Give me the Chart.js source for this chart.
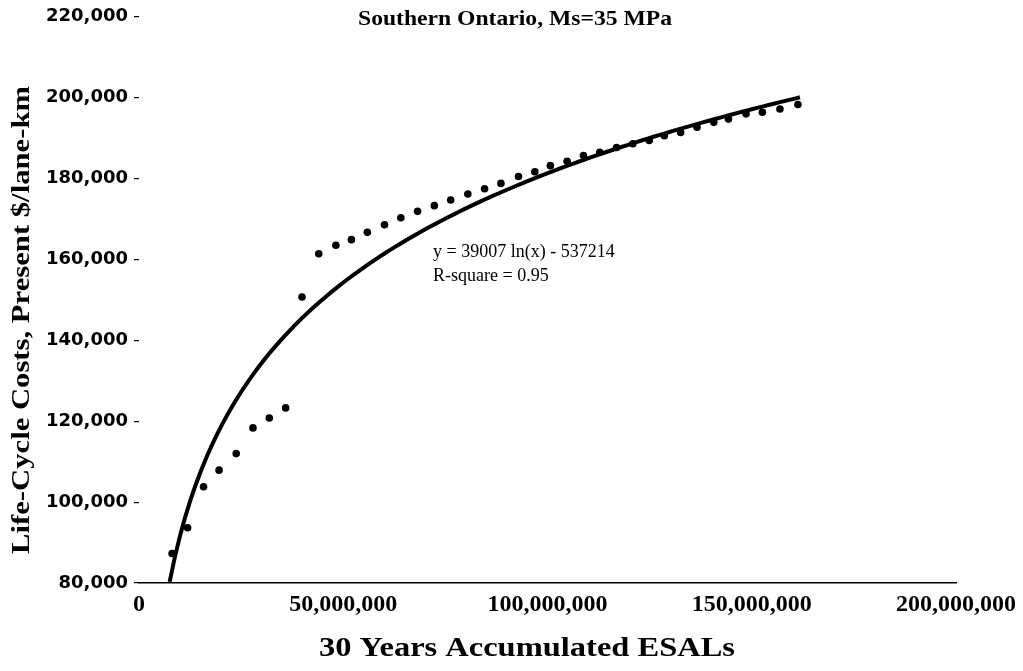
<!DOCTYPE html>
<html>
<head>
<meta charset="utf-8">
<title>Southern Ontario, Ms=35 MPa</title>
<script src="https://cdn.jsdelivr.net/npm/chart.js@4.4.1/dist/chart.umd.min.js"></script>
<style>
    html, body { margin: 0; padding: 0; background: #fff; }
    .chart-container { position: relative; width: 1023px; height: 671px; }
</style>
</head>
<body>
<div class="chart-container">
    <canvas id="lccChart"></canvas>
</div>
<script>
// 30-year accumulated ESALs (millions)
const esalMillions = [
    8.1, 11.9, 15.8, 19.6, 23.8, 27.9, 31.9, 35.9, 39.9, 44.0,
    48.2, 52.0, 55.9, 60.1, 64.1, 68.2, 72.3, 76.3, 80.5, 84.6,
    88.6, 92.9, 96.9, 100.7, 104.8, 108.8, 112.8, 116.9, 120.9, 124.9,
    128.6, 132.6, 136.6, 140.7, 144.3, 148.6, 152.6, 156.9, 161.3
];

// life-cycle costs, present $/lane-km
const lifeCycleCosts = [
    87300, 93650, 103800, 107900, 112000, 118350, 120800, 123300, 150700, 161400,
    163500, 164900, 166700, 168600, 170300, 171900, 173300, 174700, 176200, 177500,
    178800, 180500, 181700, 183200, 184300, 185700, 186500, 187700, 188600, 189400,
    190600, 191400, 192700, 193900, 194700, 196000, 196400, 197200, 198300
];

// log trend line as printed on the chart: y = a ln(x) + b
const trendA = 39007;
const trendB = -537214;
const trendRange = [7.5e6, 161.8e6];

const yTicks = [80000, 100000, 120000, 140000, 160000, 180000, 200000, 220000];
const xTicks = [0, 50000000, 100000000, 150000000, 200000000];

const titleText = 'Southern Ontario, Ms=35 MPa';
const xTitle = '30 Years Accumulated ESALs';
const yTitle = 'Life-Cycle Costs, Present $/lane-km';
const equationLines = ['y = 39007 ln(x) - 537214', 'R-square = 0.95'];

const SERIF = '"Liberation Serif", "Times New Roman", serif';

function fmt(v) {
    return Number(v).toLocaleString('en-US');
}

function buildTrend() {
    const pts = [];
    const n = 120;
    const [x0, x1] = trendRange;
    for (let i = 0; i <= n; i++) {
        const x = x0 + (x1 - x0) * i / n;
        pts.push({ x, y: trendA * Math.log(x) + trendB });
    }
    return pts;
}

// the scanned original uses a wider face than Liberation Serif, so stretch a bit
function drawWide(ctx, text, cx, cy, width, angle) {
    const w = ctx.measureText(text).width;
    ctx.save();
    ctx.translate(cx, cy);
    if (angle) ctx.rotate(angle);
    ctx.scale(width / w, 1);
    ctx.textAlign = 'center';
    ctx.fillText(text, 0, 0);
    ctx.restore();
}

// text that sits on the canvas but is not part of a scale
const textPlugin = {
    id: 'chartTexts',
    afterDraw(chart) {
        const ctx = chart.ctx;
        ctx.save();
        ctx.fillStyle = '#000';
        ctx.textBaseline = 'middle';

        ctx.font = 'bold 21px ' + SERIF;
        drawWide(ctx, titleText, 515, 20, 314);

        ctx.font = 'bold 27px ' + SERIF;
        drawWide(ctx, xTitle, 527, 649, 416);

        ctx.font = 'bold 25px ' + SERIF;
        drawWide(ctx, yTitle, 23, 320, 468, -Math.PI / 2);

        ctx.textAlign = 'left';
        ctx.font = '18px ' + SERIF;
        ctx.fillText(equationLines[0], 433, 252);
        ctx.fillText(equationLines[1], 433, 276);
        ctx.restore();
    }
};

const ctx = document.getElementById('lccChart').getContext('2d');

new Chart(ctx, {
    type: 'scatter',
    data: {
        datasets: [
            {
                label: 'Log trend',
                data: buildTrend(),
                showLine: true,
                borderColor: '#000',
                borderWidth: 4,
                pointRadius: 0,
                fill: false,
            },
            {
                label: 'Life-cycle costs',
                data: esalMillions.map((m, i) => ({ x: m * 1e6, y: lifeCycleCosts[i] })),
                backgroundColor: '#000',
                borderColor: '#000',
                pointStyle: 'circle',
                pointRadius: 3.8,
                borderWidth: 0,
            }
        ]
    },
    options: {
        responsive: true,
        maintainAspectRatio: false,
        animation: false,
        layout: {
            padding: { top: 16, right: 61, bottom: 0, left: 0 }
        },
        plugins: {
            legend: { display: false },
            tooltip: { enabled: false },
        },
        scales: {
            x: {
                type: 'linear',
                min: xTicks[0],
                max: xTicks[xTicks.length - 1],
                afterBuildTicks: (scale) => { scale.ticks = xTicks.map(v => ({ value: v })); },
                afterFit: (scale) => { scale.height = 88; },
                grid: { display: false, drawTicks: false, tickLength: 0 },
                border: { display: true, color: '#000', width: 1.5 },
                ticks: {
                    padding: 7,
                    color: '#000',
                    maxRotation: 0,
                    font: { family: SERIF, size: 24, weight: 'bold' },
                    callback: (v) => fmt(v),
                },
            },
            y: {
                type: 'linear',
                min: yTicks[0],
                max: yTicks[yTicks.length - 1],
                afterBuildTicks: (scale) => { scale.ticks = yTicks.map(v => ({ value: v })); },
                afterFit: (scale) => { scale.width = 139; },
                grid: {
                    drawOnChartArea: false,
                    drawTicks: true,
                    tickLength: 5,
                    color: '#000',
                    lineWidth: 1.2,
                },
                border: { display: false },
                ticks: {
                    padding: 6,
                    color: '#000',
                    font: { family: '"DejaVu Sans", sans-serif', size: 18, weight: 'bold' },
                    callback: (v) => fmt(v),
                },
            }
        }
    },
    plugins: [textPlugin]
});
</script>
</body>
</html>
